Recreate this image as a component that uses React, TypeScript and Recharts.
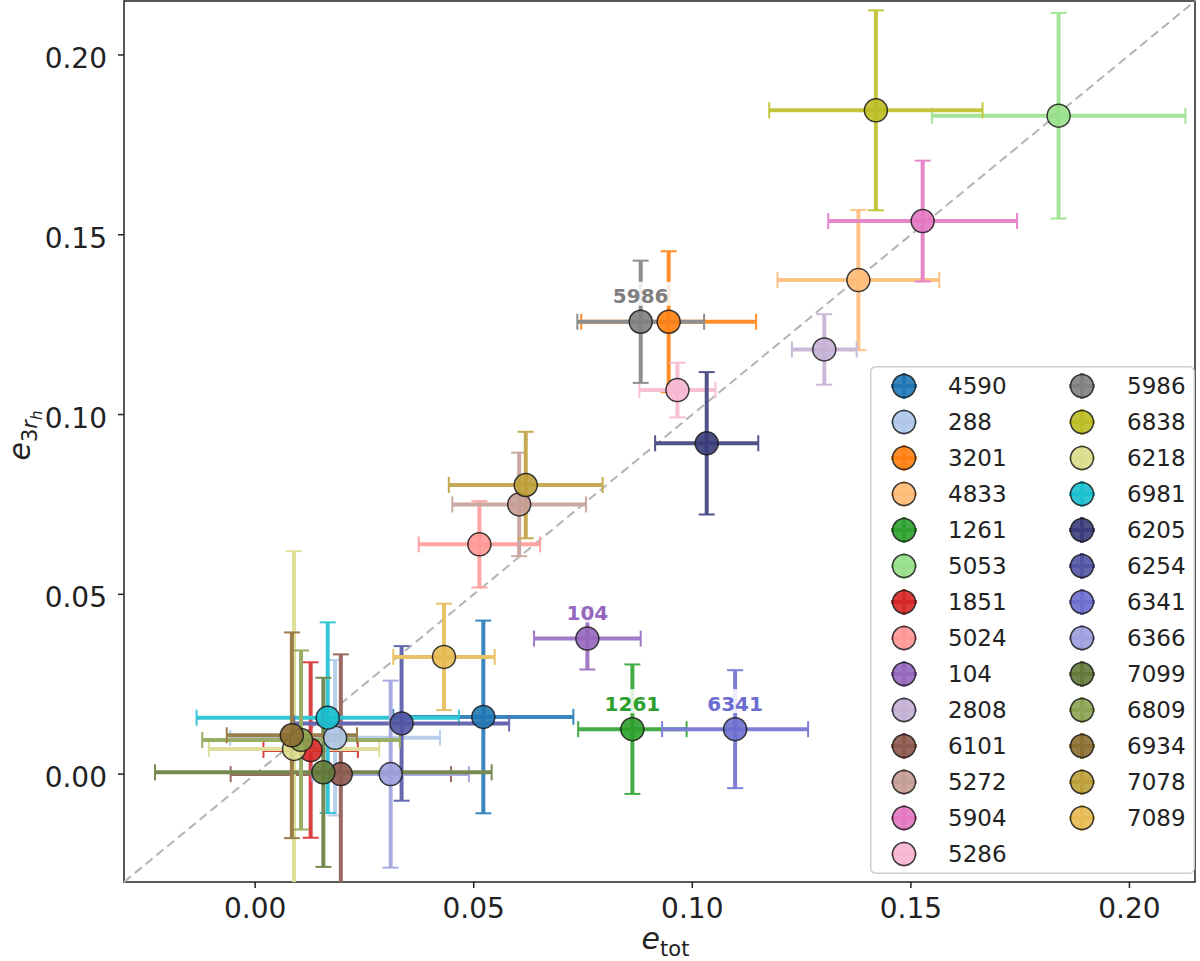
import React from 'react';
import { ScatterChart, Scatter, XAxis, YAxis, ErrorBar, ReferenceLine, ReferenceArea, Legend } from 'recharts';

const names = ['4590', '288', '3201', '4833', '1261', '5053', '1851', '5024', '104', '2808', '6101', '5272', '5904', '5286', '5986', '6838', '6218', '6981', '6205', '6254', '6341', '6366', '7099', '6809', '6934', '7078', '7089'];
const colors = ['#1f77b4', '#aec7e8', '#ff7f0e', '#ffbb78', '#2ca02c', '#98df8a', '#d62728', '#ff9896', '#9467bd', '#c5b0d5', '#8c564b', '#c49c94', '#e377c2', '#f7b6d2', '#7f7f7f', '#bcbd22', '#dbdb8d', '#17becf', '#393b79', '#5254a3', '#6b6ecf', '#9c9ede', '#637939', '#8ca252', '#8c6d31', '#bd9e39', '#e7ba52'];
const eTot = [0.0522, 0.0183, 0.0946, 0.138, 0.0863, 0.1838, 0.0127, 0.0513, 0.076, 0.1302, 0.0196, 0.0604, 0.1527, 0.0966, 0.0882, 0.142, 0.0089, 0.0166, 0.1033, 0.0335, 0.1098, 0.031, 0.0156, 0.0105, 0.0084, 0.0619, 0.0432];
const e3rh = [0.0159, 0.0101, 0.1258, 0.1374, 0.0125, 0.1831, 0.0067, 0.0639, 0.0377, 0.1181, 0.0, 0.075, 0.1538, 0.1068, 0.1258, 0.1846, 0.007, 0.0157, 0.092, 0.0141, 0.0125, 0.0, 0.0005, 0.0095, 0.0108, 0.0804, 0.0326];
const eTotErr = [0.0206, 0.024, 0.02, 0.0185, 0.0124, 0.029, 0.0108, 0.0139, 0.0122, 0.0074, 0.0252, 0.0153, 0.0216, 0.0087, 0.0145, 0.0244, 0.0195, 0.03, 0.0118, 0.0246, 0.0167, 0.0179, 0.0385, 0.0226, 0.0149, 0.0176, 0.0116];
const e3rhErr = [0.0268, 0.0216, 0.0196, 0.0195, 0.018, 0.0286, 0.0244, 0.012, 0.0086, 0.0098, 0.0333, 0.0144, 0.0168, 0.0076, 0.017, 0.0278, 0.055, 0.0265, 0.0198, 0.0215, 0.0164, 0.026, 0.0263, 0.0249, 0.0286, 0.0148, 0.0148];
const labelled = ['5986', '104', '1261', '6341'];
const ticks = [0, 0.05, 0.1, 0.15, 0.2];
const domain: [number, number] = [-0.03, 0.215];

const FONT = 'DejaVu Sans, sans-serif';
const W = 1200;
const H = 961;
const M = { top: 1, right: 5, bottom: 0, left: 0 };
const YW = 124;
const XH = 79;
const PLOT = { x: M.left + YW, y: M.top, w: W - M.left - YW - M.right, h: H - M.top - M.bottom - XH };
const ERR_ALPHA = 0.88;

function blend(hex: string, a: number): string {
  const n = parseInt(hex.slice(1), 16);
  const r = (n >> 16) & 255, g = (n >> 8) & 255, b = n & 255;
  const m = (c: number) => Math.round(c * a + 255 * (1 - a)).toString(16).padStart(2, '0');
  return '#' + m(r) + m(g) + m(b);
}

const points = names.map((name, i) => ({
  name,
  x: eTot[i],
  y: e3rh[i],
  ex: eTotErr[i],
  ey: e3rhErr[i],
  color: colors[i],
  label: labelled.includes(name) ? name : '',
}));

const Empty = () => <g />;

const Marker = (props: any) => {
  const { cx, cy, payload } = props;
  if (cx == null || cy == null) return <g />;
  const lab = payload.label as string;
  const w = lab.length * 13.9 + 6;
  return (
    <g>
      <circle cx={cx} cy={cy} r={11.5} fill={payload.color} fillOpacity={0.9} stroke="#1a1a1a" strokeOpacity={0.85} strokeWidth={1.5} />
      {lab ? (
        <g>
          <rect x={cx - w / 2} y={cy - 40} width={w} height={24} fill="#ffffff" fillOpacity={0.85} />
          <text x={cx} y={cy - 18.5} textAnchor="middle" fontFamily={FONT} fontWeight="bold" fontSize={20} fill={payload.color}>{lab}</text>
        </g>
      ) : null}
    </g>
  );
};

const XTick = (props: any) => {
  const { x, y, payload } = props;
  return (
    <text x={x} y={y + 20} textAnchor="middle" fontFamily={FONT} fontSize={28} fill="#222">{Number(payload.value).toFixed(2)}</text>
  );
};

const YTick = (props: any) => {
  const { x, y, payload } = props;
  return (
    <text x={x} y={y + 13} textAnchor="end" fontFamily={FONT} fontSize={28} fill="#222">{Number(payload.value).toFixed(2)}</text>
  );
};

const XLabel = (props: any) => {
  const vb = props.viewBox;
  const cx = vb.x + vb.width / 2 + 6;
  return (
    <text x={cx} y={vb.y + 67} textAnchor="middle" fontFamily={FONT} fontSize={30} fill="#222">
      <tspan fontStyle="italic">e</tspan>
      <tspan fontSize={21} dy={7}>tot</tspan>
    </text>
  );
};

const YLabel = (props: any) => {
  const vb = props.viewBox;
  const cy = vb.y + vb.height / 2 - 6;
  const x = 30;
  return (
    <text x={x} y={cy} textAnchor="middle" fontFamily={FONT} fontSize={30} fill="#222" transform={`rotate(-90, ${x}, ${cy})`}>
      <tspan fontStyle="italic">e</tspan>
      <tspan fontSize={21} dy={7}>3</tspan>
      <tspan fontSize={21} fontStyle="italic">r</tspan>
      <tspan fontSize={15} fontStyle="italic" dy={5}>h</tspan>
    </text>
  );
};

const LegendBox = () => {
  const rowsPerCol = 14;
  return (
    <svg width={325} height={508} style={{ display: 'block' }}>
      <rect x={0.75} y={0.75} width={323.5} height={506.5} rx={5} ry={5} fill="#ffffff" fillOpacity={0.85} stroke="#cccccc" strokeWidth={1.5} />
      {names.map((name, i) => {
        const col = Math.floor(i / rowsPerCol);
        const row = i % rowsPerCol;
        const cx = col === 0 ? 34 : 212;
        const tx = col === 0 ? 78 : 257;
        const cy = 20 + row * 36;
        const ec = blend(colors[i], ERR_ALPHA);
        return (
          <g key={name}>
            <line x1={cx - 13} x2={cx + 13} y1={cy} y2={cy} stroke={ec} strokeWidth={4} />
            <line x1={cx} x2={cx} y1={cy - 13} y2={cy + 13} stroke={ec} strokeWidth={4} />
            <circle cx={cx} cy={cy} r={11.5} fill={colors[i]} fillOpacity={0.9} stroke="#1a1a1a" strokeOpacity={0.85} strokeWidth={1.5} />
            <text x={tx} y={cy + 8.3} fontFamily={FONT} fontSize={23} fill="#222">{name}</text>
          </g>
        );
      })}
    </svg>
  );
};

export default function App() {
  return (
    <div style={{ position: 'absolute', left: 0, top: 0, width: W, height: H, background: '#fff' }}>
      <style>{'.recharts-errorBar, .recharts-errorBars { clip-path: url(#plotClipArea); }'}</style>
      <svg width={0} height={0} style={{ position: 'absolute', left: 0, top: 0 }}>
        <defs>
          <clipPath id="plotClipArea" clipPathUnits="userSpaceOnUse">
            <rect x={PLOT.x} y={PLOT.y} width={PLOT.w} height={PLOT.h} />
          </clipPath>
        </defs>
      </svg>
      <ScatterChart width={W} height={H} margin={M}>
        <XAxis
          type="number"
          dataKey="x"
          domain={domain}
          allowDataOverflow
          ticks={ticks}
          height={XH}
          axisLine={false}
          tickLine={{ stroke: '#222', strokeWidth: 1.5 }}
          tickSize={6}
          tickMargin={10}
          tick={XTick}
          label={XLabel}
        />
        <YAxis
          type="number"
          dataKey="y"
          domain={domain}
          allowDataOverflow
          ticks={ticks}
          width={YW}
          axisLine={false}
          tickLine={{ stroke: '#222', strokeWidth: 1.5 }}
          tickSize={6}
          tickMargin={11}
          tick={YTick}
          label={YLabel}
        />
        <ReferenceLine
          segment={[{ x: domain[0], y: domain[0] }, { x: domain[1], y: domain[1] }]}
          stroke="#b3b3b3"
          strokeWidth={2}
          strokeDasharray="9 5"
        />
        {points.map((p, i) => {
          const ec = blend(colors[i], ERR_ALPHA);
          return (
            <Scatter key={'err-' + p.name} name={p.name} data={[p]} isAnimationActive={false} shape={Empty} legendType="none">
              <ErrorBar dataKey="ex" direction="x" width={0} strokeWidth={4} stroke={ec} isAnimationActive={false} />
              <ErrorBar dataKey="ex" direction="x" width={8} strokeWidth={2} stroke={ec} isAnimationActive={false} />
              <ErrorBar dataKey="ey" direction="y" width={0} strokeWidth={4} stroke={ec} isAnimationActive={false} />
              <ErrorBar dataKey="ey" direction="y" width={8} strokeWidth={2} stroke={ec} isAnimationActive={false} />
            </Scatter>
          );
        })}
        <Scatter name="markers" data={points} isAnimationActive={false} shape={Marker} legendType="none" />
        <ReferenceArea x1={domain[0]} x2={domain[1]} y1={domain[0]} y2={domain[1]} fill="none" stroke="#222" strokeWidth={1.5} />
        <Legend
          verticalAlign="middle"
          align="center"
          layout="horizontal"
          wrapperStyle={{ position: 'absolute', left: 870, top: 366, width: 325, height: 508, margin: 0, padding: 0, lineHeight: 0 }}
          content={() => <LegendBox />}
        />
      </ScatterChart>
    </div>
  );
}
